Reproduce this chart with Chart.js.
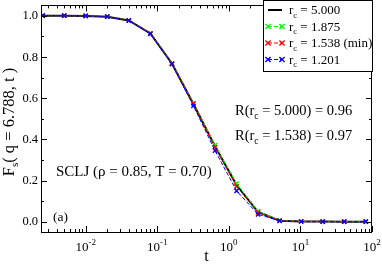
<!DOCTYPE html>
<html><head><meta charset="utf-8">
<script src="https://cdn.jsdelivr.net/npm/chart.js@4/dist/chart.umd.min.js"></script>
<style>html,body{margin:0;padding:0;background:#fff}#wrap{width:382px;height:264px}</style>
</head><body><div id="wrap"><canvas id="c" width="382" height="264"></canvas></div>
<script>
const tValues = [0.0025,0.005,0.01,0.02,0.04,0.08,0.16,0.32,0.64,1.28,2.56,5.12,10.24,20.48,40.96,81.92];
const rc5000 = [1.0,1.0,0.999,0.995,0.977,0.914,0.768,0.571,0.366,0.178,0.047,0.005,0.001,0.0005,0.0003,0.0002];
const rc1875 = [1.0,1.0,0.999,0.995,0.977,0.914,0.769,0.575,0.372,0.185,0.051,0.006,0.001,0.0,0.0,0.0];
const rc1538 = [1.0,1.0,0.999,0.995,0.977,0.914,0.768,0.574,0.362,0.171,0.045,0.005,0.001,0.0,0.0,0.0];
const rc1201 = [1.0,1.0,0.999,0.995,0.976,0.912,0.765,0.562,0.345,0.150,0.036,0.004,0.001,0.0,0.0,0.0];
const seriesLabels = ['5.000','1.875','1.538 (min)','1.201'];
const yTicks = [0.0,0.2,0.4,0.6,0.8,1.0];
const yMinor = [0.1,0.3,0.5,0.7,0.9];
const xDecades = [-2,-1,0,1,2];

const SERIF = '"Liberation Serif","DejaVu Serif",serif';
const pts = arr => tValues.map((t,i)=>({x:t,y:arr[i]}));

function drawRich(ctx, parts, x, y, align){
  let w=0;
  parts.forEach(p=>{ctx.font=p.s+'px '+SERIF; p.w=ctx.measureText(p.t).width; w+=p.w;});
  let cx = align==='center'? x-w/2 : (align==='right'? x-w : x);
  ctx.textAlign='left'; ctx.textBaseline='alphabetic';
  parts.forEach(p=>{ctx.font=p.s+'px '+SERIF; ctx.fillText(p.t, cx, y+(p.dy||0)); cx+=p.w;});
  return w;
}

const overlay = {
  id:'overlay',
  afterDraw(chart){
    const ctx=chart.ctx, a=chart.chartArea, xs=chart.scales.x, ys=chart.scales.y;
    ctx.save();
    ctx.strokeStyle='#000'; ctx.fillStyle='#000'; ctx.lineWidth=1;
    ctx.strokeRect(Math.round(a.left)+0.5, Math.round(a.top)+0.5, Math.round(a.right-a.left)-1, Math.round(a.bottom-a.top));
    const tick=(x1,y1,x2,y2)=>{ctx.beginPath();ctx.moveTo(x1,y1);ctx.lineTo(x2,y2);ctx.stroke();};
    yTicks.forEach(v=>{const y=Math.round(ys.getPixelForValue(v))+0.5; tick(a.left,y,a.left+6,y); tick(a.right,y,a.right-6,y);});
    yMinor.forEach(v=>{const y=Math.round(ys.getPixelForValue(v))+0.5; tick(a.left,y,a.left+3,y); tick(a.right,y,a.right-3,y);});
    for(let d=-3; d<=2; d++){
      for(let m=1;m<10;m++){
        const v=m*Math.pow(10,d);
        if(v<xs.min||v>xs.max) continue;
        const x=Math.round(xs.getPixelForValue(v))+0.5;
        const L = m===1?6:3;
        tick(x,a.bottom,x,a.bottom-L); tick(x,a.top,x,a.top+L);
      }
    }
    ctx.font='12.5px '+SERIF; ctx.textAlign='right'; ctx.textBaseline='middle';
    yTicks.forEach(v=>ctx.fillText(v.toFixed(1), a.left-3, ys.getPixelForValue(v)+0.5));
    xDecades.forEach(d=>{
      const x=xs.getPixelForValue(Math.pow(10,d));
      drawRich(ctx,[{t:'10',s:13},{t:String(d),s:9,dy:-6}],x,251,'center');
    });
    drawRich(ctx,[{t:'t',s:16}],(a.left+a.right)/2,261,'center');
    ctx.save(); ctx.translate(14,122); ctx.rotate(-Math.PI/2);
    drawRich(ctx,[{t:'F',s:16.5},{t:'s',s:11,dy:4},{t:'( q = 6.788, t )',s:16.5}],0,0,'center');
    ctx.restore();
    drawRich(ctx,[{t:'R(r',s:14.5},{t:'c',s:9.5,dy:4},{t:' = 5.000) = 0.96',s:14.5}],235,115,'left');
    drawRich(ctx,[{t:'R(r',s:14.5},{t:'c',s:9.5,dy:4},{t:' = 1.538) = 0.97',s:14.5}],235,139.5,'left');
    drawRich(ctx,[{t:'SCLJ (ρ = 0.85, T = 0.70)',s:15}],56,176,'left');
    drawRich(ctx,[{t:'(a)',s:13.5}],53,221,'left');
    ctx.fillStyle='#fff'; ctx.fillRect(263.5,0.5,109,71);
    ctx.strokeStyle='#000'; ctx.lineWidth=1; ctx.strokeRect(263.5,0.5,109,71);
    const rows=[10,26.5,43,59.5];
    chart.data.datasets.forEach((ds,i)=>{
      const y=rows[i];
      ctx.save();
      ctx.strokeStyle=ds.borderColor; ctx.lineWidth=ds.borderWidth;
      ctx.setLineDash(ds.borderDash||[]);
      ctx.beginPath(); ctx.moveTo(268,y); ctx.lineTo(282,y); ctx.stroke();
      ctx.setLineDash([]);
      if(ds.pointRadius>0){
        ctx.lineWidth=ds.pointBorderWidth; const r=2.6;
        [268,282].forEach(px=>{ctx.beginPath();ctx.moveTo(px-r,y-r);ctx.lineTo(px+r,y+r);ctx.moveTo(px-r,y+r);ctx.lineTo(px+r,y-r);ctx.stroke();});
      }
      ctx.restore();
      ctx.fillStyle='#000';
      drawRich(ctx,[{t:'r',s:13},{t:'c',s:8.5,dy:3.5},{t:' = '+seriesLabels[i],s:13}],289,y+4,'left');
    });
    ctx.restore();
  }
};

const mk=(arr,color,solid,order)=>({
  data:pts(arr), borderColor:color, backgroundColor:color, order:order,
  borderWidth: solid?2:1, borderDash: solid?[]:[4,2],
  pointStyle:'crossRot', pointRadius: solid?0:3, pointBorderWidth:1.4,
  pointBorderColor:color, tension:0, fill:false
});

new Chart(document.getElementById('c'),{
  type:'line',
  data:{datasets:[mk(rc5000,'#000000',true,3),mk(rc1875,'#00ff00',false,2),mk(rc1538,'#ff0000',false,1),mk(rc1201,'#0000ff',false,0)]},
  options:{
    responsive:false, animation:false, devicePixelRatio:1,
    layout:{padding:{left:41,right:10,top:1,bottom:32}},
    plugins:{legend:{display:false},tooltip:{enabled:false}},
    scales:{
      x:{type:'logarithmic',min:0.00237,max:100,display:false},
      y:{type:'linear',min:-0.05,max:1.05,display:false}
    }
  },
  plugins:[overlay]
});
</script></body></html>
